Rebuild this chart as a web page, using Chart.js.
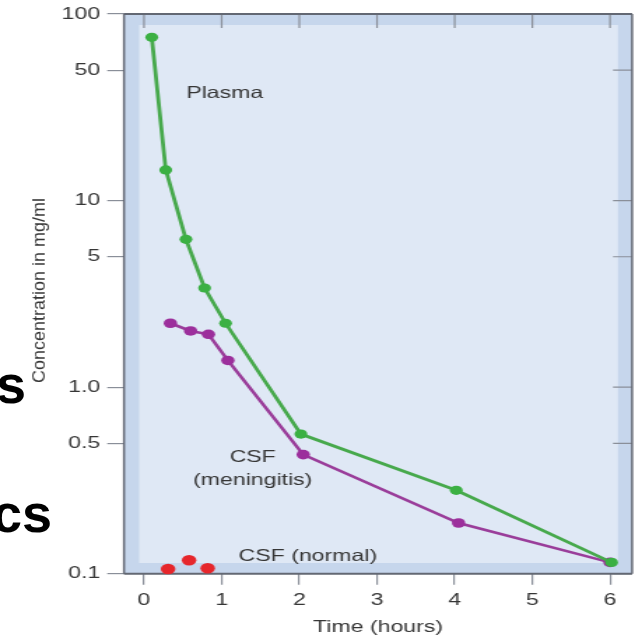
<!DOCTYPE html>
<html>
<head>
<meta charset="utf-8">
<script src="https://cdn.jsdelivr.net/npm/chart.js@4.4.1/dist/chart.umd.min.js"></script>
<style>
  html, body { margin: 0; padding: 0; background: #fff; }
  #wrap { position: relative; width: 635px; height: 637px; overflow: hidden; }
  /* the figure is laid out on a narrower canvas and widened horizontally */
  #stage { position: absolute; left: 0; top: 0; width: 454px; height: 637px;
           transform-origin: 0 0; transform: scaleX(1.39868); }
  .slide { position: absolute; font: bold 54px "Liberation Sans", Arial, sans-serif;
           line-height: 54px; color: #000; white-space: nowrap; }
</style>
</head>
<body>
<div id="wrap">
  <div id="stage"><canvas id="c" width="454" height="637" style="width:454px;height:637px"></canvas></div>
  <div class="slide" style="left:-4px;top:357px">s</div>
  <div class="slide" style="left:-8px;top:486px">cs</div>
</div>
<script>
// Drug concentration over time (mg/ml, log scale)
const plasmaHours = [0.1, 0.28, 0.54, 0.78, 1.05, 2.02, 4.02, 6.02];
const plasmaConc  = [75, 14.6, 6.2, 3.4, 2.2, 0.56, 0.28, 0.115];

const meningitisHours = [0.34, 0.6, 0.83, 1.08, 2.05, 4.05, 6.0];
const meningitisConc  = [2.2, 2.0, 1.92, 1.39, 0.435, 0.187, 0.115];

const normalHours = [0.31, 0.58, 0.82];
const normalConc  = [0.106, 0.118, 0.107];

const xTicks = [0, 1, 2, 3, 4, 5, 6];
const yTicks = [0.1, 0.5, 1, 5, 10, 50, 100];
const yTickLabels = ['0.1', '0.5', '1.0', '5', '10', '50', '100'];

// curve labels: [text, hour, concentration]
const curveLabels = [
  ['Plasma', 1.04, 37.3],
  ['CSF', 1.40, 0.418],
  ['(meningitis)', 1.40, 0.318],
  ['CSF (normal)', 2.11, 0.123]
];
const yTitle = 'Concentration in mg/ml';
const xTitle = 'Time (hours)';

const FONT = '"Liberation Sans", Arial, Helvetica, sans-serif';
const TEXT = '#363636';

const toPoints = (xs, ys) => xs.map((x, i) => ({ x, y: ys[i] }));

const panelPlugin = {
  id: 'panel',
  beforeDraw(chart) {
    const { ctx, chartArea: a } = chart;
    ctx.save();
    ctx.fillStyle = '#c6d6ec';
    ctx.fillRect(a.left, a.top, a.right - a.left, a.bottom - a.top);
    ctx.fillStyle = '#dfe8f5';
    const l = 10.8, t = 11, r = 10.1, b = 10.7;
    ctx.fillRect(a.left + l, a.top + t, a.right - a.left - l - r, a.bottom - a.top - t - b);
    ctx.restore();
  },
  beforeDatasetsDraw(chart) {
    const { ctx, chartArea: a, scales: { x, y } } = chart;
    ctx.save();
    // inward ticks along the top and right edges
    ctx.strokeStyle = '#8a8f99';
    ctx.lineWidth = 1.2;
    ctx.beginPath();
    xTicks.forEach(v => { const px = x.getPixelForValue(v); ctx.moveTo(px, a.top); ctx.lineTo(px, a.top + 14); });
    yTicks.forEach(v => { const py = y.getPixelForValue(v); ctx.moveTo(a.right, py); ctx.lineTo(a.right - 13.6, py); });
    ctx.stroke();
    // frame
    ctx.strokeStyle = '#636873';
    ctx.lineWidth = 2;
    ctx.beginPath();
    ctx.moveTo(a.left, a.top); ctx.lineTo(a.right, a.top);
    ctx.moveTo(a.left, a.bottom); ctx.lineTo(a.right, a.bottom);
    ctx.stroke();
    ctx.lineWidth = 1.5;
    ctx.beginPath();
    ctx.moveTo(a.left, a.top); ctx.lineTo(a.left, a.bottom);
    ctx.moveTo(a.right, a.top); ctx.lineTo(a.right, a.bottom);
    ctx.stroke();
    ctx.restore();
  },
  afterDraw(chart) {
    const { ctx, scales: { x, y } } = chart;
    ctx.save();
    ctx.fillStyle = TEXT;
    ctx.font = `16.5px ${FONT}`;
    ctx.textAlign = 'center';
    ctx.textBaseline = 'middle';
    curveLabels.forEach(([txt, hx, cy]) => {
      ctx.fillText(txt, x.getPixelForValue(hx), y.getPixelForValue(cy));
    });
    // rotated y-axis title
    ctx.translate(28.6, 290.5);
    ctx.rotate(-Math.PI / 2);
    ctx.font = `13.5px ${FONT}`;
    const w = ctx.measureText(yTitle).width;
    ctx.scale(185 / w, 1);
    ctx.fillText(yTitle, 0, 0);
    ctx.restore();
  }
};

new Chart(document.getElementById('c'), {
  type: 'scatter',
  data: {
    datasets: [
      {
        label: 'Plasma',
        data: toPoints(plasmaHours, plasmaConc),
        showLine: true,
        borderColor: '#47a94c',
        backgroundColor: '#3bb043',
        borderWidth: 2.8,
        pointRadius: 4.6,
        pointBorderWidth: 0,
        clip: false
      },
      {
        label: 'CSF (meningitis)',
        data: toPoints(meningitisHours, meningitisConc),
        showLine: true,
        borderColor: '#9a3d9a',
        backgroundColor: '#9c2f9c',
        borderWidth: 2.6,
        pointRadius: 4.8,
        pointBorderWidth: 0,
        clip: false
      },
      {
        label: 'CSF (normal)',
        data: toPoints(normalHours, normalConc),
        showLine: false,
        backgroundColor: '#e6262b',
        pointRadius: 5.2,
        pointBorderWidth: 0,
        clip: false
      }
    ]
  },
  options: {
    responsive: false,
    animation: false,
    devicePixelRatio: 1,
    layout: { autoPadding: false, padding: { top: 14, right: 2.1, bottom: 0, left: 0 } },
    plugins: { legend: { display: false }, tooltip: { enabled: false } },
    scales: {
      x: {
        type: 'linear',
        min: -0.2575,
        max: 6.284,
        afterBuildTicks: s => { s.ticks = xTicks.map(v => ({ value: v })); },
        afterFit: s => { s.height = 63.3; s.paddingLeft = 0; s.paddingRight = 0; },
        border: { display: false },
        grid: { drawOnChartArea: false, drawTicks: true, tickLength: 11, color: '#8a8f99', lineWidth: 1.2 },
        ticks: { padding: 6, maxRotation: 0, autoSkip: false, color: TEXT,
                 font: { family: FONT, size: 16.5 }, callback: v => String(v) },
        title: { display: true, text: xTitle, color: TEXT, padding: { top: 0, bottom: 0 },
                 font: { family: FONT, size: 16.5 } }
      },
      y: {
        type: 'logarithmic',
        min: 0.1,
        max: 100,
        afterBuildTicks: s => { s.ticks = yTicks.map(v => ({ value: v })); },
        afterFit: s => { s.width = 88.65; s.paddingTop = 0; s.paddingBottom = 0; },
        border: { display: false },
        grid: { drawOnChartArea: false, drawTicks: true, tickLength: 12, color: '#8a8f99', lineWidth: 1.2 },
        ticks: { padding: 5, autoSkip: false, color: TEXT,
                 font: { family: FONT, size: 16.5 }, callback: (v, i) => yTickLabels[i] }
      }
    }
  },
  plugins: [panelPlugin]
});
</script>
</body>
</html>
